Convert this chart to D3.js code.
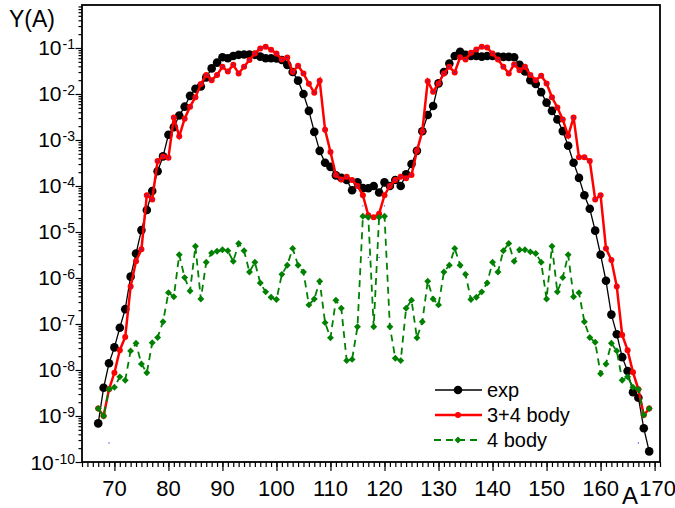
<!DOCTYPE html>
<html>
<head>
<meta charset="utf-8">
<script src="https://cdn.jsdelivr.net/npm/d3@7"></script>
<style>
  body { margin: 0; background: #fff; }
  text { font-family: Arial, "Liberation Sans", sans-serif; fill: #000; }
</style>
</head>
<body>
<div id="graphique"></div>
<script>
// --- DONNÉES ---
const masses = [67,68,69,70,71,72,73,74,75,76,77,78,79,80,81,82,83,84,85,86,87,88,89,90,
  91,92,93,94,95,96,97,98,99,100,101,102,103,104,105,106,107,108,109,110,111,112,113,114,
  115,116,117,118,119,120,121,122,123,124,125,126,127,128,129,130,131,132,133,134,135,136,
  137,138,139,140,141,142,143,144,145,146,147,148,149,150,151,152,153,154,155,156,157,158,
  159,160,161,162,163,164,165,166,167,168,169];

// exp
const valeursExp = [6.9e-10,4.1e-9,1.4e-8,3.1e-8,8.3e-8,2.1e-7,1.07e-6,3.4e-6,1.1e-5,3e-5,
  7.8e-5,2.1e-4,4.4e-4,1.3e-3,1.9e-3,3.4e-3,5.3e-3,9.1e-3,1.3e-2,1.45e-2,2.3e-2,3.6e-2,4.8e-2,6.3e-2,
  6.0e-2,6.7e-2,7.1e-2,7.2e-2,7.2e-2,7.1e-2,6.5e-2,6.0e-2,6.0e-2,5.9e-2,5.5e-2,4.3e-2,3.0e-2,1.95e-2,
  1.0e-2,4.3e-3,1.5e-3,5.8e-4,3.2e-4,2.6e-4,1.7e-4,1.5e-4,1.35e-4,8.1e-5,
  1.2e-4,9e-5,8.9e-5,1.0e-4,7.2e-5,1.2e-4,1.0e-4,1.35e-4,1.0e-4,1.8e-4,3e-4,5.8e-4,1.55e-3,3.5e-3,
  5.5e-3,1.7e-2,3.0e-2,4.6e-2,6.7e-2,8.3e-2,7.1e-2,6.7e-2,6.7e-2,6.5e-2,6.7e-2,6.7e-2,6.5e-2,6.4e-2,
  6.4e-2,6.3e-2,4.3e-2,3.1e-2,2.0e-2,1.65e-2,1.1e-2,6.5e-3,4.3e-3,2.8e-3,1.56e-3,7.5e-4,3.2e-4,1.5e-4,
  6.3e-5,3.2e-5,1.07e-5,3.2e-6,8.7e-7,1.6e-7,6e-8,1.9e-8,9.5e-9,3.3e-9,2.5e-9,5.4e-10,1.7e-10];

// 3+4 body
const valeurs34 = [1.45e-9,1.0e-9,3.8e-9,8.7e-9,2.7e-8,5.2e-8,6.5e-7,2.3e-6,4.2e-6,6.3e-5,
  5.1e-5,3.5e-4,4.4e-4,4.1e-4,3.1e-3,1.2e-3,2.9e-3,5.3e-3,8.5e-3,1.65e-2,2.6e-2,2.0e-2,2.6e-2,3.9e-2,
  3.1e-2,4.3e-2,2.8e-2,3.9e-2,5.5e-2,7.6e-2,9.8e-2,0.107,9.1e-2,7.6e-2,5.6e-2,6.2e-2,3.0e-2,4.1e-2,
  2.8e-2,1.66e-2,1.07e-2,1.95e-2,1.66e-3,5.5e-4,1.74e-4,1.38e-4,1.58e-4,1.35e-4,
  1.0e-4,6.3e-5,2.3e-5,2.1e-5,2.5e-5,6.3e-5,1.0e-4,1.35e-4,1.58e-4,1.48e-4,1.74e-4,5.8e-4,1.55e-3,1.9e-2,
  1.12e-2,1.7e-2,2.8e-2,3.9e-2,2.95e-2,6.3e-2,5.6e-2,7.9e-2,9.3e-2,0.107,0.102,7.6e-2,5.6e-2,3.9e-2,
  2.8e-2,4.4e-2,3.3e-2,3.9e-2,2.6e-2,2.0e-2,2.5e-2,1.7e-2,8.5e-3,5.1e-3,2.8e-3,1.23e-3,3.1e-3,4.2e-4,
  4.2e-4,3.5e-4,5.1e-5,6.3e-5,4.4e-6,2.45e-6,6.5e-7,5.8e-8,2.7e-8,8.9e-9,3.8e-9,1.05e-9,1.45e-9];

// 4 body
const valeurs4 = [1.45e-9,1.0e-9,3.8e-9,4.2e-9,7.1e-9,6.0e-9,2.6e-8,3.8e-8,1.35e-8,8.7e-9,
  3.9e-8,5.1e-8,1.12e-7,4.8e-7,3.9e-7,3.2e-6,1.02e-6,5.2e-7,4.9e-6,3.5e-7,2.2e-6,3.5e-6,3.8e-6,4.1e-6,
  3.9e-6,2.3e-6,5.6e-6,3.9e-6,1.35e-6,2.2e-6,7.8e-7,5.0e-7,3.8e-7,3.4e-7,1.2e-6,1.9e-6,4.4e-6,1.9e-6,
  1.35e-6,2.6e-7,3.5e-7,8.5e-7,1.07e-7,5.0e-8,3.3e-7,2.2e-7,1.6e-8,1.7e-8,
  8.7e-8,2.2e-5,2.1e-5,8.7e-8,2.1e-5,2.2e-5,8.7e-8,1.8e-8,1.6e-8,2.2e-7,3.3e-7,5.0e-8,1.12e-7,8.5e-7,
  3.5e-7,2.6e-7,1.35e-6,1.9e-6,4.4e-6,1.9e-6,1.2e-6,3.4e-7,3.8e-7,5.0e-7,7.8e-7,2.2e-6,1.35e-6,3.9e-6,
  5.6e-6,2.3e-6,4.1e-6,4.1e-6,3.7e-6,3.4e-6,2.2e-6,3.5e-7,4.9e-6,5.0e-7,1.02e-6,3.2e-6,3.9e-7,4.8e-7,
  1.12e-7,5.1e-8,4.0e-8,8.3e-9,1.35e-8,3.8e-8,2.6e-8,6.0e-9,7.1e-9,4.2e-9,3.8e-9,1.05e-9,1.45e-9];

// petits points bleus isolés (série cachée du logiciel d'origine)
const pointsBleusA = [69, 116, 117, 119, 120, 167];
const pointsBleusY = [2.6e-10, 3.7e-5, 2.8e-6, 2.8e-6, 3.7e-5, 2.6e-10];

const ticksX = [70, 80, 90, 100, 110, 120, 130, 140, 150, 160, 170];
const exposantsY = [-1, -2, -3, -4, -5, -6, -7, -8, -9, -10];
const legendes = ["exp", "3+4 body", "4 body"];

// --- CONFIGURATION ---
const largeur = 675;
const hauteur = 508;
const gauche = 82, droite = 660, haut = 5, bas = 462;

const svg = d3.select("#graphique")
    .append("svg")
    .attr("width", largeur)
    .attr("height", hauteur);

// --- ÉCHELLES ---
const x = d3.scaleLinear().domain([64, 171]).range([gauche, droite]);
const y = d3.scaleLog().domain([1e-10, 0.86]).range([bas, haut]);

// --- AXE Y (log) ---
const majeursY = exposantsY.map(e => Math.pow(10, e));
const mineursY = [];
exposantsY.forEach(e => {
    for (let k = 2; k <= 9; k++) {
        const v = k * Math.pow(10, e);
        if (v < 0.86) mineursY.push(v);
    }
});

const axeY = svg.append("g").attr("transform", `translate(${gauche},0)`);
axeY.call(d3.axisLeft(y).tickValues(mineursY).tickSize(3.5).tickFormat(""));
axeY.call(g => g.select(".domain").remove());
const axeY2 = svg.append("g").attr("transform", `translate(${gauche},0)`);
axeY2.call(d3.axisLeft(y).tickValues(majeursY).tickSize(6.5).tickFormat(""));
axeY2.call(g => g.select(".domain").remove());
svg.selectAll(".tick line").attr("stroke", "#000").attr("stroke-width", 1.2);

// étiquettes 10^n
const etiquettesY = svg.append("g")
    .selectAll("text")
    .data(exposantsY)
    .join("text")
    .attr("x", 75)
    .attr("y", e => y(Math.pow(10, e)) + 7.5)
    .attr("text-anchor", "end")
    .style("font-size", "21px");
etiquettesY.append("tspan").text("10");
etiquettesY.append("tspan")
    .attr("dy", -6)
    .attr("dx", 1)
    .style("font-size", "14px")
    .text(e => "-" + Math.abs(e));

// --- AXE X ---
const mineursX = d3.range(64, 172);
const axeX = svg.append("g").attr("transform", `translate(0,${bas})`);
axeX.call(d3.axisBottom(x).tickValues(mineursX).tickSize(5).tickFormat(""));
axeX.call(g => g.select(".domain").remove());
const axeX2 = svg.append("g").attr("transform", `translate(0,${bas})`);
axeX2.call(d3.axisBottom(x).tickValues(ticksX).tickSize(9).tickFormat(""));
axeX2.call(g => g.select(".domain").remove());
svg.selectAll(".tick line").attr("stroke", "#000").attr("stroke-width", 1.2);

svg.append("g")
    .selectAll("text")
    .data(ticksX)
    .join("text")
    .attr("x", d => x(d) + (d === 170 ? 3 : 0))
    .attr("y", 496)
    .attr("text-anchor", "middle")
    .style("font-size", "22px")
    .text(d => d);

// cadre
svg.append("rect")
    .attr("x", gauche).attr("y", haut)
    .attr("width", droite - gauche).attr("height", bas - haut)
    .attr("fill", "none")
    .attr("stroke", "#000")
    .attr("stroke-width", 1.8);

// titres des axes
svg.append("text").attr("x", 9).attr("y", 27).style("font-size", "23px").text("Y(A)");
svg.append("text").attr("x", 622).attr("y", 504).style("font-size", "24px").text("A");

// --- SÉRIES ---
const serieExp = masses.map((a, i) => ({a: a, v: valeursExp[i]}));
const serie34 = masses.map((a, i) => ({a: a, v: valeurs34[i]}));
const serie4 = masses.map((a, i) => ({a: a, v: valeurs4[i]}));

const ligne = d3.line().x(d => x(d.a)).y(d => y(d.v));
const losange = d3.symbol().type(d3.symbolSquare).size(24);

// exp : ligne noire fine + gros ronds
svg.append("path").datum(serieExp)
    .attr("d", ligne).attr("fill", "none")
    .attr("stroke", "#000").attr("stroke-width", 1.3);
svg.append("g").selectAll("circle").data(serieExp).join("circle")
    .attr("cx", d => x(d.a)).attr("cy", d => y(d.v))
    .attr("r", 4.3).attr("fill", "#000");

// 3+4 body : ligne rouge épaisse + petits ronds
svg.append("path").datum(serie34)
    .attr("d", ligne).attr("fill", "none")
    .attr("stroke", "#ff0000").attr("stroke-width", 2.5);
svg.append("g").selectAll("circle").data(serie34).join("circle")
    .attr("cx", d => x(d.a)).attr("cy", d => y(d.v))
    .attr("r", 3).attr("fill", "#ff0000");

// 4 body : tirets verts + losanges
svg.append("path").datum(serie4)
    .attr("d", ligne).attr("fill", "none")
    .attr("stroke", "#008000").attr("stroke-width", 1.8)
    .attr("stroke-dasharray", "7,5");
svg.append("g").selectAll("path").data(serie4).join("path")
    .attr("d", losange)
    .attr("transform", d => `translate(${x(d.a)},${y(d.v)}) rotate(45)`)
    .attr("fill", "#008000");

// points bleus minuscules (au centre des ronds rouges + quelques isolés)
const bleus = serie34.filter(d => d.a >= 73 && d.a <= 163 && (d.a < 116 || d.a > 120))
    .concat(pointsBleusA.map((a, i) => ({a: a, v: pointsBleusY[i]})));
svg.append("g").selectAll("circle").data(bleus).join("circle")
    .attr("cx", d => x(d.a)).attr("cy", d => y(d.v))
    .attr("r", 0.7).attr("fill", "#3030ff");

// --- LÉGENDE ---
const lignesLegende = [390, 415, 440];
const leg = svg.append("g");
// exp
leg.append("line").attr("x1", 435).attr("x2", 482).attr("y1", lignesLegende[0]).attr("y2", lignesLegende[0])
    .attr("stroke", "#000").attr("stroke-width", 1.3);
leg.append("circle").attr("cx", 458).attr("cy", lignesLegende[0]).attr("r", 4.3).attr("fill", "#000");
// 3+4 body
leg.append("line").attr("x1", 435).attr("x2", 482).attr("y1", lignesLegende[1]).attr("y2", lignesLegende[1])
    .attr("stroke", "#ff0000").attr("stroke-width", 2.5);
leg.append("circle").attr("cx", 458).attr("cy", lignesLegende[1]).attr("r", 3).attr("fill", "#ff0000");
// 4 body
leg.append("line").attr("x1", 434).attr("x2", 482).attr("y1", lignesLegende[2]).attr("y2", lignesLegende[2])
    .attr("stroke", "#008000").attr("stroke-width", 1.8).attr("stroke-dasharray", "7,5");
leg.append("path").attr("d", losange)
    .attr("transform", `translate(458,${lignesLegende[2]}) rotate(45)`).attr("fill", "#008000");

leg.selectAll("text").data(legendes).join("text")
    .attr("x", 487)
    .attr("y", (d, i) => lignesLegende[i] + 7)
    .style("font-size", "20px")
    .text(d => d);
</script>
</body>
</html>
